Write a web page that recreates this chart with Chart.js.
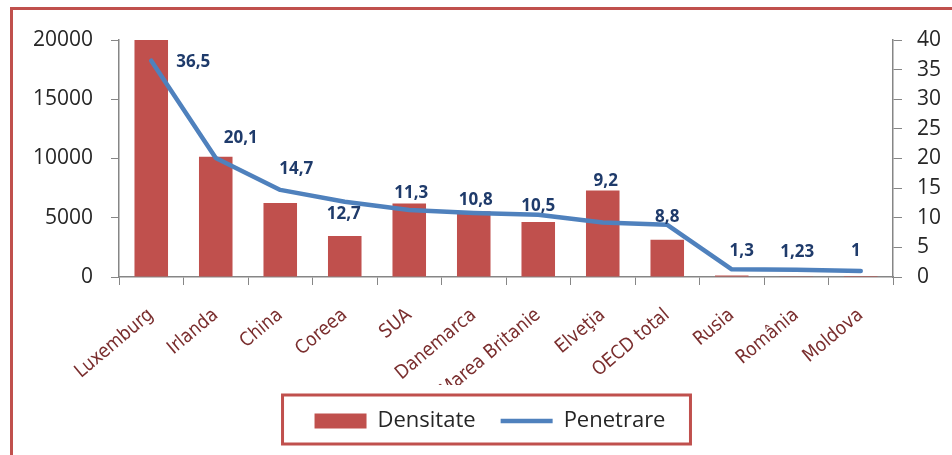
<!DOCTYPE html>
<html>
<head>
<meta charset="utf-8">
<script src="https://cdn.jsdelivr.net/npm/chart.js@4.4.1/dist/chart.umd.min.js"></script>
<style>
    html, body { margin: 0; padding: 0; background: #fff; overflow: hidden; }
    #wrap { position: relative; width: 952px; height: 455px; }
</style>
</head>
<body>
<div id="wrap"><canvas id="grafica"></canvas></div>
<script>
const tari = ['Luxemburg', 'Irlanda', 'China', 'Coreea', 'SUA', 'Danemarca', 'Marea Britanie', 'Elveţia', 'OECD total', 'Rusia', 'România', 'Moldova'];
const densitate = [20000, 10150, 6250, 3450, 6200, 5550, 4650, 7300, 3150, 130, 15, 5];
const penetrare = [36.5, 20.1, 14.7, 12.7, 11.3, 10.8, 10.5, 9.2, 8.8, 1.3, 1.23, 1];
const ticksDensitate = [0, 5000, 10000, 15000, 20000];
const ticksPenetrare = [0, 5, 10, 15, 20, 25, 30, 35, 40];

const ROSU = '#C0504D';
const ALBASTRU = '#4F81BD';

// chenarul exterior al graficului
const chenar = {
    id: 'chenar',
    beforeDraw(chart) {
        const ctx = chart.ctx;
        ctx.save();
        ctx.strokeStyle = ROSU;
        ctx.lineWidth = 3;
        ctx.strokeRect(11.5, 8.5, 1000, 1000);
        ctx.restore();
    }
};

// etichetele valorilor pentru linie (pozitionate manual ca in Excel)
const deplasari = [[42, 1], [25, -20], [16, -21], [-1, 12], [2, -17], [2, -13], [0, -9], [3, -41], [0, -8], [10, -18], [1, -18], [-5, -20]];
const etichete = {
    id: 'etichete',
    afterDatasetsDraw(chart) {
        const meta = chart.getDatasetMeta(1);
        const ctx = chart.ctx;
        ctx.save();
        ctx.font = 'bold 17px "Open Sans"';
        ctx.fillStyle = '#1F3B6B';
        ctx.textAlign = 'center';
        ctx.textBaseline = 'middle';
        meta.data.forEach((p, i) => {
            const d = deplasari[i] || [0, -15];
            const txt = String(penetrare[i]).replace('.', ',');
            ctx.fillText(txt, p.x + d[0], p.y + d[1]);
        });
        ctx.restore();
    }
};

// chenarul legendei
const chenarLegenda = {
    id: 'chenarLegenda',
    afterDraw(chart) {
        const boxes = chart.legend.legendHitBoxes;
        if (!boxes || !boxes.length) return;
        let st = Infinity, dr = -Infinity, cy = 0;
        boxes.forEach(b => {
            st = Math.min(st, b.left);
            dr = Math.max(dr, b.left + b.width);
            cy = b.top + b.height / 2;
        });
        const ctx = chart.ctx;
        ctx.save();
        ctx.strokeStyle = ROSU;
        ctx.lineWidth = 3;
        ctx.strokeRect(st - 32, cy - 26, dr - st + 57, 49);
        ctx.restore();
    }
};

const fontTick = { family: '"Open Sans"', size: 21 };

new Chart(document.getElementById('grafica'), {
    type: 'bar',
    data: {
        labels: tari,
        datasets: [
            {
                label: 'Densitate',
                data: densitate,
                backgroundColor: ROSU,
                borderWidth: 0,
                barPercentage: 0.52,
                categoryPercentage: 1,
                yAxisID: 'y',
                order: 1
            },
            {
                type: 'line',
                label: 'Penetrare',
                data: penetrare,
                borderColor: ALBASTRU,
                backgroundColor: ALBASTRU,
                borderWidth: 4.5,
                borderJoinStyle: 'round',
                borderCapStyle: 'round',
                pointRadius: 0,
                tension: 0,
                yAxisID: 'y1',
                order: 0
            }
        ]
    },
    options: {
        responsive: true,
        maintainAspectRatio: false,
        animation: false,
        layout: { padding: { left: 28, right: 0, top: 40, bottom: 13 } },
        plugins: {
            tooltip: { enabled: false },
            legend: {
                position: 'bottom',
                labels: {
                    font: { family: '"Open Sans"', size: 22 },
                    color: '#262626',
                    usePointStyle: true,
                    pointStyleWidth: 52,
                    boxHeight: 15,
                    padding: 25,
                    sort: (a, b) => a.datasetIndex - b.datasetIndex,
                    generateLabels(chart) {
                        const items = Chart.defaults.plugins.legend.labels.generateLabels(chart);
                        items.forEach(it => {
                            if (it.datasetIndex === 0) {
                                it.pointStyle = 'rect';
                                it.lineWidth = 0;
                                it.fillStyle = ROSU;
                            } else {
                                it.pointStyle = 'line';
                                it.lineWidth = 4.5;
                                it.strokeStyle = ALBASTRU;
                            }
                        });
                        return items;
                    }
                }
            }
        },
        scales: {
            x: {
                grid: { drawOnChartArea: false, drawTicks: true, tickLength: 8, color: '#868686', offset: true },
                border: { display: true, color: '#868686', width: 1.5 },
                ticks: {
                    font: { family: '"Liberation Sans Narrow", "DejaVu Sans Condensed", "Roboto"', size: 19 },
                    color: '#7A2E2E',
                    minRotation: 40,
                    maxRotation: 40,
                    autoSkip: false,
                    padding: 19
                },
                afterFit(s) {
                    s.height = s.chart.height - 277 - 13 - s.chart.legend.height;
                }
            },
            y: {
                position: 'left',
                min: 0,
                max: 20000,
                afterBuildTicks(s) { s.ticks = ticksDensitate.map(v => ({ value: v })); },
                grid: { drawOnChartArea: false, drawTicks: true, tickLength: 8, color: '#868686' },
                border: { display: true, color: '#868686', width: 1.5 },
                ticks: { font: fontTick, color: '#262626', padding: 18, callback: v => String(v) },
                afterFit(s) { s.width = 119 - 28; }
            },
            y1: {
                position: 'right',
                min: 0,
                max: 40,
                afterBuildTicks(s) { s.ticks = ticksPenetrare.map(v => ({ value: v })); },
                grid: { drawOnChartArea: false, drawTicks: true, tickLength: 9, color: '#868686' },
                border: { display: true, color: '#868686', width: 1.5 },
                ticks: { font: fontTick, color: '#262626', padding: 15, callback: v => String(v) },
                afterFit(s) { s.width = 952 - 893; }
            }
        }
    },
    plugins: [chenar, etichete, chenarLegenda]
});
</script>
</body>
</html>
